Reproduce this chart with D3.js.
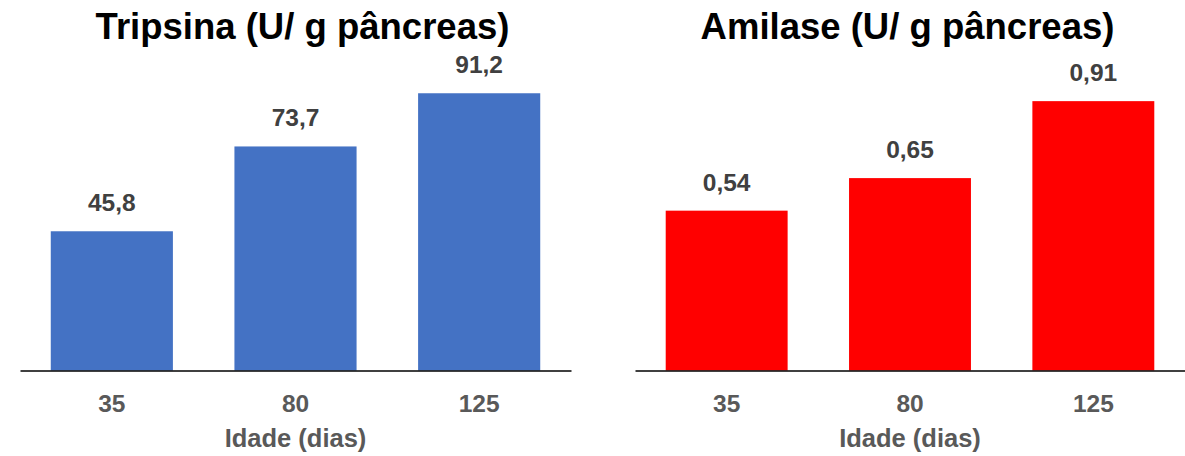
<!DOCTYPE html>
<html>
<head>
<meta charset="utf-8">
<script src="https://cdn.jsdelivr.net/npm/d3@7"></script>
<style>
  body { margin: 0; background: #fff; }
  svg { font-family: "Liberation Sans", Arial, sans-serif; }
</style>
</head>
<body>
<svg id="chart" width="1185" height="456"></svg>
<script>
// data
const idades = ["35", "80", "125"];
const tripsina = [45.8, 73.7, 91.2];
const amilase = [0.54, 0.65, 0.91];
const tripsinaLabels = ["45,8", "73,7", "91,2"];
const amilaseLabels = ["0,54", "0,65", "0,91"];

const svg = d3.select("#chart");
const baseY = 370.5;

function drawPanel(opts) {
	var g = svg.append("g");

	var x = d3.scaleBand()
		.domain(idades)
		.range([opts.x0, opts.x1])
		.paddingInner(0.335)
		.paddingOuter(0.1675);

	var y = d3.scaleLinear()
		.domain([0, opts.max])
		.range([baseY, baseY - opts.pxHeight]);

	// bars
	g.selectAll(".bar")
		.data(opts.values)
		.enter()
		.append("rect")
		.attr("class", "bar")
		.attr("x", (d, i) => x(idades[i]))
		.attr("y", d => y(d))
		.attr("width", x.bandwidth())
		.attr("height", d => baseY - y(d))
		.attr("fill", opts.color);

	// value labels
	g.selectAll(".lbl")
		.data(opts.values)
		.enter()
		.append("text")
		.attr("class", "lbl")
		.attr("x", (d, i) => x(idades[i]) + x.bandwidth() / 2)
		.attr("y", d => y(d) - 20)
		.attr("text-anchor", "middle")
		.attr("font-size", 24.5)
		.attr("font-weight", "bold")
		.attr("fill", "#404040")
		.text((d, i) => opts.labels[i]);

	// x axis
	var gX = g.append("g")
		.attr("transform", "translate(0," + baseY + ")")
		.call(d3.axisBottom(x).tickSize(0).tickPadding(0).tickSizeOuter(0));
	gX.select(".domain")
		.attr("stroke", "#000")
		.attr("stroke-width", 1.6);
	gX.selectAll(".tick text")
		.attr("dy", 0)
		.attr("y", 41.5)
		.attr("font-size", 24.5)
		.attr("font-weight", "bold")
		.attr("font-family", "Liberation Sans, Arial, sans-serif")
		.attr("fill", "#595959");

	g.append("text")
		.attr("x", (opts.x0 + opts.x1) / 2)
		.attr("y", 447)
		.attr("text-anchor", "middle")
		.attr("font-size", 25.5)
		.attr("font-weight", "bold")
		.attr("fill", "#595959")
		.text("Idade (dias)");

	// title
	g.append("text")
		.attr("x", opts.titleX)
		.attr("y", 39)
		.attr("text-anchor", "middle")
		.attr("font-size", 36.5)
		.attr("font-weight", "bold")
		.attr("fill", "#000")
		.text(opts.title);
}

drawPanel({
	x0: 20, x1: 571,
	max: 100, pxHeight: 304,
	values: tripsina, labels: tripsinaLabels,
	color: "#4472C4",
	title: "Tripsina (U/ g pâncreas)", titleX: 302.5
});

drawPanel({
	x0: 635, x1: 1185,
	max: 1, pxHeight: 296,
	values: amilase, labels: amilaseLabels,
	color: "#FF0000",
	title: "Amilase (U/ g pâncreas)", titleX: 907.5
});
</script>
</body>
</html>
